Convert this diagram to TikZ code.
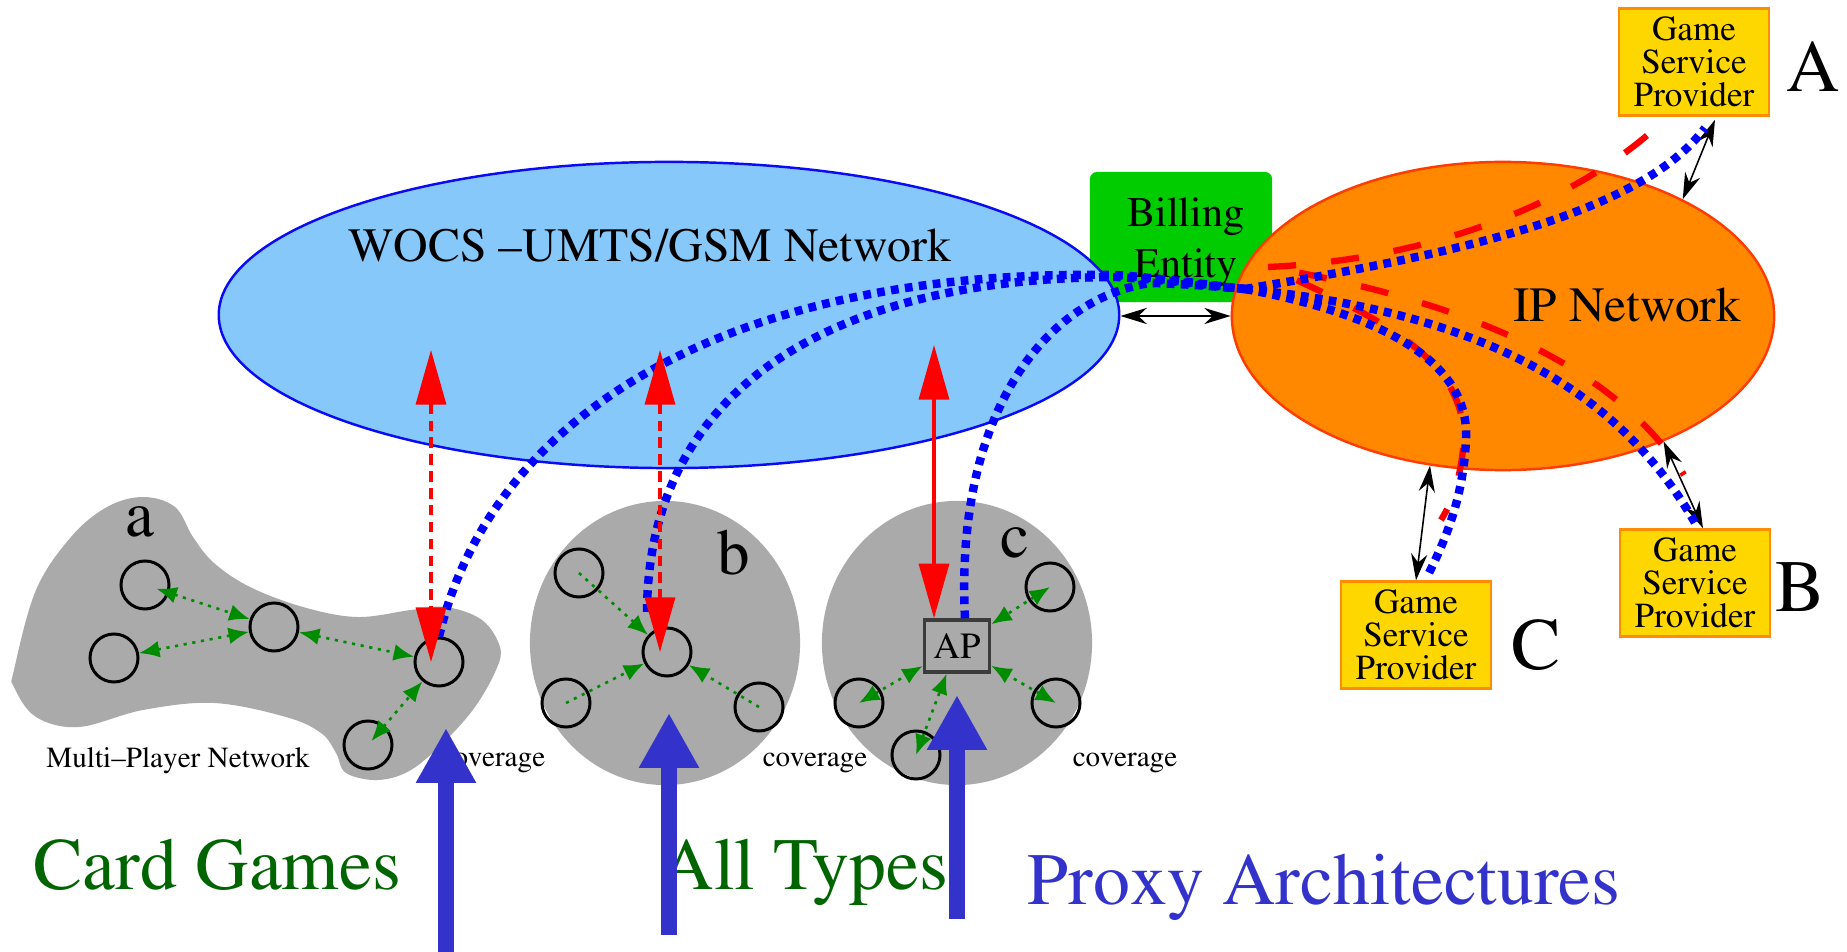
\documentclass[tikz,border=0pt]{standalone}
\usepackage[T1]{fontenc}
\renewcommand{\rmdefault}{ptm}
\renewcommand{\familydefault}{\rmdefault}
\newcommand{\tms}{\rmfamily}
\usetikzlibrary{shapes.geometric,arrows.meta,calc}
\definecolor{wocsfill}{RGB}{135,200,250}
\definecolor{wocsline}{RGB}{10,10,245}
\definecolor{ipfill}{RGB}{255,136,0}
\definecolor{ipline}{RGB}{255,60,0}
\definecolor{billfill}{RGB}{0,204,0}
\definecolor{gspfill}{RGB}{255,215,0}
\definecolor{gspline}{RGB}{255,140,0}
\definecolor{grp}{RGB}{170,170,170}
\definecolor{garr}{RGB}{0,140,0}
\definecolor{bigblue}{RGB}{51,51,204}
\definecolor{dotblue}{RGB}{0,0,255}
\definecolor{rd}{RGB}{255,0,0}
\definecolor{dkgreen}{RGB}{0,100,0}
\definecolor{apline}{RGB}{60,60,60}
\begin{document}
\begin{tikzpicture}[x=0.01cm, y=-0.01cm,
  player/.style={circle, draw=black, line width=0.85pt, minimum size=0.48cm, inner sep=0pt},
  gsp/.style={draw=gspline, fill=gspfill, line width=0.7pt, minimum width=1.5cm, minimum height=1.07cm, inner sep=0pt, align=center, font=\tms\fontsize{10}{9.4}\selectfont},
  biglabel/.style={font=\tms\fontsize{21}{21}\selectfont},
  grplabel/.style={font=\tms\fontsize{18.5}{18.5}\selectfont, anchor=base},
  cov/.style={font=\tms\fontsize{8.3}{8.3}\selectfont, anchor=base},
  bottomtxt/.style={font=\tms\fontsize{21}{21}\selectfont, anchor=base west, inner sep=0pt},
  gdot/.style={draw=garr, line width=0.75pt, dash pattern=on 0.9pt off 1.6pt},
  gboth/.style={gdot, arrows={Latex[length=5.8pt,width=4.8pt]-Latex[length=5.8pt,width=4.8pt]}},
  gone/.style={gdot, arrows={-Latex[length=5.8pt,width=4.8pt]}},
  redarr/.style={draw=rd, line width=1pt, arrows={Triangle[length=15.5pt,width=8.5pt]-Triangle[length=15.5pt,width=8.5pt]}},
  reddsh/.style={dash pattern=on 3pt off 1.8pt},
  upbig/.style={draw=bigblue, line width=4.7pt, arrows={-Triangle[length=15.6pt,width=16pt]}},
  bdot/.style={draw=dotblue, line width=2.4pt, dash pattern=on 2.2pt off 1.8pt},
  rlong/.style={draw=rd, line width=1.8pt, dash pattern=on 8pt off 10pt},
  blk/.style={draw=black, line width=0.45pt, arrows={Stealth[length=7.5pt,width=4.6pt]-Stealth[length=7.5pt,width=4.6pt]}}
]
\useasboundingbox (0,0) rectangle (1847,952);

% gray group regions
\fill[grp] plot[smooth cycle, tension=0.6] coordinates {(14,670) (36,590) (71,537) (107,507) (143,497) (175,507) (193,537) (214,563) (250,587) (303,607) (357,617) (411,610) (446,607) (482,620) (500,647) (496,670) (475,707) (446,740) (411,770) (378,780) (346,773) (336,753) (321,733) (286,717) (214,703) (143,710) (79,727) (36,717) (14,687)};
\node[ellipse, fill=grp, minimum width=2.7cm, minimum height=2.84cm, inner sep=0pt] (gb) at (665,643) {};
\node[ellipse, fill=grp, minimum width=2.7cm, minimum height=2.84cm, inner sep=0pt] (gc) at (957,643) {};

% networks
\node[rectangle, rounded corners=0.07cm, fill=billfill, minimum width=1.82cm, minimum height=1.3cm, inner sep=0pt] (bill) at (1181,237) {};
\node[ellipse, fill=wocsfill, draw=wocsline, line width=0.7pt, minimum width=9.0cm, minimum height=3.06cm, inner sep=0pt] (wocs) at (669,315) {};
\node[ellipse, fill=ipfill, draw=ipline, line width=0.7pt, minimum width=5.42cm, minimum height=3.08cm, inner sep=0pt] (ip) at (1503,316) {};

\node[font=\tms\fontsize{13.6}{16}\selectfont, anchor=base] (wocstxt) at (650,262) {WOCS --UMTS/GSM Network};
\node[font=\tms\fontsize{14}{16}\selectfont, anchor=base] (iptxt) at (1627,322) {IP Network};
\node[font=\tms\fontsize{12}{14.5}\selectfont, align=center] (billtxt) at (1186,242) {Billing\\Entity};

% game service providers
\node[gsp] (gspA) at (1694,62) {Game\\Service\\Provider};
\node[gsp] (gspB) at (1695,583) {Game\\Service\\Provider};
\node[gsp] (gspC) at (1416,635) {Game\\Service\\Provider};
\node[biglabel] (labA) at (1813,66) {A};
\node[biglabel] (labB) at (1800,587) {B};
\node[biglabel] (labC) at (1536,645) {C};

% red long-dashed fan in IP network
\coordinate (R0) at (1268,267);
\draw[rlong] (R0) .. controls (1420,260) and (1560,210) .. (1650,133);
\draw[rlong, dash phase=9pt] (R0) .. controls (1400,290) and (1600,340) .. (1684,475);
\draw[rlong, dash phase=9pt] (R0) .. controls (1380,318) and (1472,360) .. (1463,450) .. controls (1458,490) and (1450,505) .. (1441,520);

% black double arrows
\draw[blk] (ip.west -| wocs.east) -- (ip.west);
\draw[blk] ($(gspA.south)+(21,3)$) -- (ip.33);
\draw[blk] (ip.-38) -- ($(gspB.north)+(8,0)$);
\draw[blk] (ip.-116) -- (gspC.north);

% players
\node[player] (a1) at (145,585) {};
\node[player] (a2) at (114,658) {};
\node[player] (a3) at (274,627) {};
\node[player] (a4) at (439,662) {};
\node[player] (a5) at (368,745) {};
\node[player] (b0) at (667,652) {};
\node[player] (b1) at (579,573) {};
\node[player] (b2) at (566,703) {};
\node[player] (b3) at (759,707) {};
\node[player] (c1) at (1050,587) {};
\node[player] (c2) at (859,703) {};
\node[player] (c3) at (916,755) {};
\node[player] (c4) at (1056,703) {};
\node[draw=apline, fill=grp, line width=1pt, minimum width=0.65cm, minimum height=0.52cm, inner sep=0pt, font=\tms\fontsize{10.5}{12}\selectfont] (ap) at (957,646) {AP};

% green links
\draw[gboth, shorten <=0.12cm] (a1.center) -- (a3);
\draw[gboth] (a2) -- (a3);
\draw[gboth] (a3) -- (a4);
\draw[gboth, shorten <=0.05cm] (a5.center) -- (a4);
\draw[gone] (b1.center) -- (b0);
\draw[gone] (b2.center) -- (b0);
\draw[gone] (b3.center) -- (b0);
\draw[gboth] (c1.center) -- (ap);
\draw[gboth] (c2.center) -- (ap);
\draw[gboth] (c3.center) -- (ap);
\draw[gboth] (c4.center) -- (ap);

% blue dotted game-traffic paths
\coordinate (J) at (1245,289);
\coordinate (bend) at (647,612);
\draw[bdot] (a4.north) .. controls (490,420) and (720,268) .. (1116,275) .. controls (1170,279) and (1210,285) .. (J);
\draw[bdot] (bend) .. controls (648,390) and (830,278) .. (1116,277) .. controls (1170,280) and (1210,286) .. (J);
\draw[bdot] ($(ap.north)+(8,0)$) .. controls (955,420) and (1040,300) .. (1150,283) .. controls (1190,284) and (1220,287) .. (J);
\draw[bdot] (J) .. controls (1450,255) and (1640,215) .. (1705,128);
\draw[bdot] (J) .. controls (1450,310) and (1610,370) .. (1698,528);
\draw[bdot] (J) .. controls (1400,318) and (1470,370) .. (1466,440) .. controls (1463,500) and (1445,540) .. (1429,573);

% red access arrows
\coordinate (ra) at (431,350);
\coordinate (rb) at (660,350);
\coordinate (rc) at (934,345);
\draw[redarr, reddsh] (ra) -- (ra |- a4.center);
\draw[redarr, reddsh] (rb) -- (rb |- b0.center);
\draw[redarr] (rc) -- (rc |- ap.north);

% group labels
\node[grplabel] (la) at (140,537) {a};
\node[grplabel] (lb) at (734,575) {b};
\node[grplabel] (lc) at (1015,558) {c};
\node[cov] (mpn) at (178,768) {Multi--Player Network};
\node[cov] (cova) at (493,767) {coverage};
\node[cov] (covb) at (815,767) {coverage};
\node[cov] (covc) at (1125,767) {coverage};

% bottom texts
\node[bottomtxt, text=dkgreen] (t1) at (33,890) {Card Games};
\node[bottomtxt, text=dkgreen] (t2) at (660,890) {All Types};
\node[bottomtxt, text=bigblue] (t3) at (1027,905) {Proxy Architectures};

% big blue arrows
\coordinate (u1s) at (446,952);
\coordinate (u1t) at (446,728);
\coordinate (u2s) at (669,935);
\coordinate (u2t) at (669,713);
\coordinate (u3s) at (957,919);
\coordinate (u3t) at (957,695);
\draw[upbig] (u1s) -- (u1t);
\draw[upbig] (u2s) -- (u2t);
\draw[upbig] (u3s) -- (u3t);
\end{tikzpicture}
\end{document}
